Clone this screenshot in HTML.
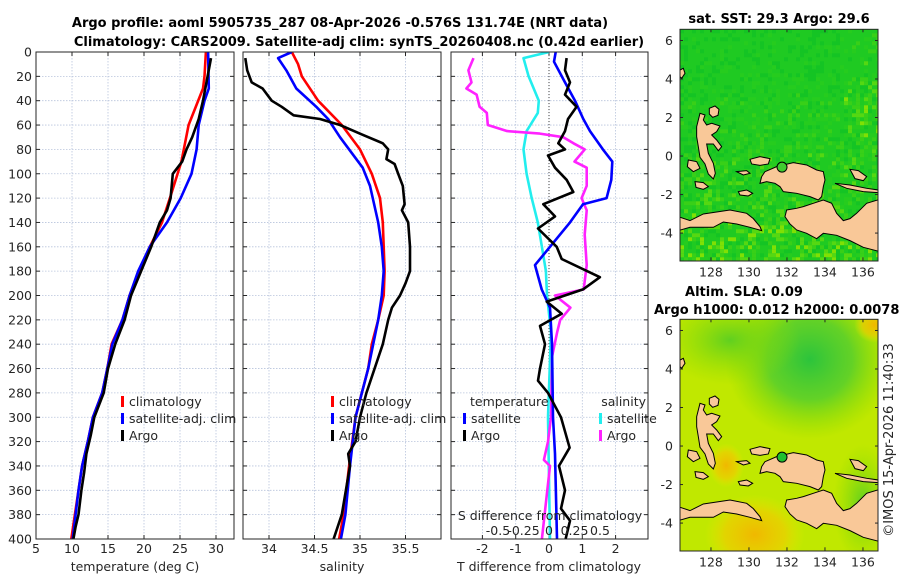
<!DOCTYPE html>
<html><head><meta charset="utf-8"><style>
body{margin:0;background:#fff;}
svg{display:block;font-family:"DejaVu Sans","Liberation Sans",sans-serif;}
.tk{font-size:12.5px;fill:#262626;}
.tt{font-size:13px;font-weight:bold;fill:#000;}
</style></head><body>
<svg id="chart" width="900" height="580" viewBox="0 0 900 580">
<defs>
<clipPath id="c1"><rect x="36" y="52" width="198" height="487"/></clipPath>
<clipPath id="c2"><rect x="243" y="52" width="198" height="487"/></clipPath>
<clipPath id="c3"><rect x="451" y="52" width="197" height="487"/></clipPath>
<clipPath id="m1"><rect x="680" y="29.3" width="198" height="231.7"/></clipPath>
<clipPath id="m2"><rect x="680" y="319.3" width="198" height="231.7"/></clipPath>
<radialGradient id="gGreen"><stop offset="0" stop-color="#2cc43c"/><stop offset="0.5" stop-color="#4ccc30" stop-opacity="0.8"/><stop offset="1" stop-color="#7ed800" stop-opacity="0"/></radialGradient>
<radialGradient id="gGreen2"><stop offset="0" stop-color="#60d020"/><stop offset="1" stop-color="#90dc00" stop-opacity="0"/></radialGradient>
<radialGradient id="gOr"><stop offset="0" stop-color="#f0b800"/><stop offset="0.6" stop-color="#f0cc00" stop-opacity="0.7"/><stop offset="1" stop-color="#e8e800" stop-opacity="0"/></radialGradient>
<g id="land">
<path d="M345,515 L380,500 L430,488 L470,495 L500,510 L520,515 L525,540 L520,560 L515,590 L505,600 L480,590 L440,580 L400,575 L390,560 L375,550 L350,545 L330,550 L335,530 Z"/>
<path d="M410,630 L440,625 L460,620 L490,610 L520,600 L545,610 L560,640 L580,662 L600,656 L620,640 L650,610 L690,598 L690,755 L640,742 L600,722 L560,706 L520,700 L500,716 L470,700 L440,690 L420,672 L405,650 Z"/>
<path d="M85,650 L120,662 L160,642 L200,636 L240,630 L290,640 L310,656 L330,680 L335,692 L300,682 L260,672 L220,666 L190,682 L160,682 L120,682 L85,692 Z"/>
<path d="M150,340 L165,345 L160,360 L170,375 L185,370 L210,378 L200,395 L185,405 L200,420 L215,440 L205,452 L190,432 L170,432 L175,460 L190,490 L196,520 L190,537 L175,522 L165,492 L150,472 L145,440 L140,410 L140,380 Z"/>
<path d="M178,325 L195,318 L207,328 L204,346 L188,352 L178,342 Z"/>
<path d="M300,478 L330,470 L360,476 L355,492 L330,496 L305,492 Z"/>
<path d="M600,508 L625,512 L650,530 L640,542 L615,536 Z"/>
<path d="M135,545 L160,548 L175,560 L160,568 L138,562 Z"/>
<path d="M265,575 L290,570 L308,580 L295,588 L270,585 Z"/>
<path d="M115,480 L140,485 L150,505 L130,515 L112,500 Z"/>
<path d="M555,550 L600,555 L650,565 L685,570 L685,578 L640,575 L590,565 Z"/>
<path d="M260,515 L290,512 L300,520 L280,525 Z"/>
<path d="M90,210 L100,205 L105,220 L95,235 L90,230 Z"/>
</g>
</defs>
<rect width="900" height="580" fill="#fff"/>
<text class="tt" x="340" y="27" text-anchor="middle">Argo profile: aoml 5905735_287 08-Apr-2026 -0.576S 131.74E (NRT data)</text>
<text class="tt" x="359" y="46" text-anchor="middle">Climatology: CARS2009. Satellite-adj clim: synTS_20260408.nc (0.42d earlier)</text>
<g id="g-panels"></g>
<g id="g-maps"></g>
<text class="tk" transform="translate(893,440) rotate(-90)" text-anchor="middle" style="font-size:13px">©IMOS 15-Apr-2026 11:40:33</text>
</svg>
<script>
// ---------- data ----------
const depthTicks=[0,20,40,60,80,100,120,140,160,180,200,220,240,260,280,300,320,340,360,380,400];
const tempTicks=[5,10,15,20,25,30];
const salTicks=[34,34.5,35,35.5];
const dTTicks=[-2,-1,0,1,2];
const dSTicks=[-0.5,-0.25,0,0.25,0.5];
const lonTicks=[128,130,132,134,136];
const latTicks=[6,4,2,0,-2,-4];

const tClimDepth=[0,20,30,60,90,120,140,160,180,200,220,240,260,280,300,320,340,360,380,400];
const tClimVal=[28.6,28.4,28.2,26.2,25.2,23.6,22.5,20.8,19.3,18.0,17.0,15.5,14.9,14.2,12.9,12.2,11.4,10.9,10.4,9.9];
const tSatDepth=[0,30,40,60,80,100,120,140,160,180,200,220,240,260,280,300,320,340,360,380,400];
const tSatVal=[28.9,29.0,28.4,27.6,27.3,26.6,25.1,23.2,20.8,19.2,18.0,17.0,15.6,14.9,14.2,12.9,12.2,11.4,10.9,10.5,10.1];
const tArgoDepth=[5,40,55,70,80,90,100,120,130,140,160,180,200,220,240,260,280,300,315,330,345,360,380,390,400];
const tArgoVal=[29.3,28.2,27.6,26.7,25.9,25.3,24.0,23.7,23.2,22.2,21.0,19.6,18.2,17.3,16.0,15.0,14.4,13.1,12.6,12.0,11.7,11.3,10.9,10.5,10.2];

const sClimDepth=[0,10,20,40,60,80,100,120,140,180,200,220,240,260,280,300,340,380,400];
const sClimVal=[34.25,34.32,34.36,34.54,34.80,35.0,35.13,35.22,35.25,35.27,35.26,35.2,35.13,35.09,35.02,34.95,34.88,34.82,34.77];
const sSatDepth=[0,5,15,30,45,55,70,95,110,140,160,180,200,220,260,300,340,380,400];
const sSatVal=[34.25,34.10,34.19,34.30,34.52,34.65,34.78,35.03,35.11,35.2,35.24,35.26,35.24,35.2,35.09,34.95,34.89,34.84,34.79];
const sArgoDepth=[5,15,25,30,40,45,52,55,60,68,75,80,88,92,100,110,125,130,140,160,180,190,200,210,220,240,260,280,300,320,330,340,380,400];
const sArgoVal=[33.74,33.76,33.81,33.93,34.03,34.14,34.27,34.56,34.78,35.03,35.25,35.31,35.29,35.38,35.42,35.47,35.49,35.46,35.53,35.55,35.55,35.5,35.44,35.35,35.31,35.25,35.16,35.07,35.0,34.95,34.87,34.89,34.8,34.71];

const dTSatDepth=[0,8,25,40,55,65,80,90,105,120,125,140,155,175,195,210,240,300,330,400];
const dTSatVal=[0.2,0.15,0.48,0.78,1.03,1.23,1.62,1.9,1.87,1.73,1.02,0.63,0.18,-0.42,-0.22,0.03,0.09,0.12,0.18,0.24];
const dTArgoDepth=[5,15,25,35,45,55,65,75,80,85,95,105,115,125,135,145,160,170,185,195,205,215,225,240,260,270,280,300,325,340,360,375,385,400];
const dTArgoVal=[0.53,0.48,0.63,0.48,0.83,0.57,0.48,0.28,0.48,-0.03,0.18,0.53,0.73,-0.17,0.18,-0.33,0.23,0.38,1.53,1.02,-0.07,0.38,-0.27,-0.12,-0.27,-0.33,-0.03,0.36,0.62,0.3,0.48,0.36,0.63,0.5];
const dSSatDepth=[0,5,20,40,50,65,80,100,120,140,160,180,200,230,300,400];
const dSSatVal=[0.0,-0.25,-0.2,-0.10,-0.11,-0.22,-0.25,-0.22,-0.17,-0.11,-0.07,-0.03,-0.02,0.02,-0.01,0.01];
const dSArgoDepth=[5,15,25,30,35,45,50,60,65,67,70,75,80,90,95,110,120,130,150,175,195,200,210,220,230,250,300,320,335,340,400];
const dSArgoVal=[-0.74,-0.79,-0.76,-0.81,-0.71,-0.68,-0.61,-0.60,-0.41,-0.09,0.14,0.24,0.35,0.25,0.37,0.37,0.32,0.37,0.35,0.37,0.34,0.06,0.21,0.11,0.08,0.03,0.02,-0.01,-0.05,0.01,-0.07];

// ---------- scales ----------
const yD=d=>52+d*487/400;
const xT=v=>36+(v-5)*7.2;
const xS=v=>269+(v-34)*91;
const xDT=v=>549+v*33.3;
const xDS=v=>549+v*102;
const NS='http://www.w3.org/2000/svg';
function mk(tag,attrs,parent){const e=document.createElementNS(NS,tag);for(const k in attrs)e.setAttribute(k,attrs[k]);parent.appendChild(e);return e;}
const G=document.getElementById('g-panels');

function panel(x0,x1,ticks,xf,tickLabels,name,yLabels){
  const g=mk('g',{},G);
  
  
  depthTicks.forEach(d=>{
    const y=yD(d);
    const l=mk('line',{x1:x0,x2:x1,y1:y,y2:y,stroke:'#b8c4dc','stroke-width':0.8,'stroke-dasharray':'1.5,1.5'},g);
    
    mk('line',{x1:x0,x2:x0+4,y1:y,y2:y,stroke:'#262626'},g);
    mk('line',{x1:x1-4,x2:x1,y1:y,y2:y,stroke:'#262626'},g);
    if(yLabels){const t=mk('text',{x:x0-4,y:y+4.5,'text-anchor':'end','class':'tk'},g);t.textContent=d;
      }
  });
  ticks.forEach((v,i)=>{
    const x=xf(v);
    const l=mk('line',{x1:x,x2:x,y1:52,y2:539,stroke:'#b8c4dc','stroke-width':0.8,'stroke-dasharray':'1.5,1.5'},g);
    
    mk('line',{x1:x,x2:x,y1:535,y2:539,stroke:'#262626'},g);
    mk('line',{x1:x,x2:x,y1:52,y2:56,stroke:'#262626'},g);
    const t=mk('text',{x:x,y:553,'text-anchor':'middle','class':'tk'},g);t.textContent=tickLabels[i];
    
  });
  return g;
}
function line(g,clip,depth,vals,xf,color,name){
  const pts=depth.map((d,i)=>xf(vals[i]).toFixed(1)+','+yD(d).toFixed(1)).join(' ');
  const p=mk('polyline',{points:pts,fill:'none',stroke:color,'stroke-width':2.6,'stroke-linejoin':'round','clip-path':'url(#'+clip+')'},g);
  
  
}
function frame(g,x0,x1){mk('rect',{x:x0,y:52,width:x1-x0,height:487,fill:'none',stroke:'#262626','stroke-width':1},g);}
function legendEntry(g,x,y,color,label,name){
  mk('rect',{x:x,y:y-10,width:3,height:11,fill:color},g);
  const t=mk('text',{x:x+8,y:y,'class':'tk'},g);t.textContent=label;
  
}
function txt(g,x,y,s,anchor,name){const t=mk('text',{x:x,y:y,'class':'tk','text-anchor':anchor},g);t.textContent=s;
  }

// Panel 1
const g1=panel(36,234,tempTicks,xT,tempTicks,'temperature-panel',true);
line(g1,'c1',tClimDepth,tClimVal,xT,'#ff0000','temp-climatology-line');
line(g1,'c1',tSatDepth,tSatVal,xT,'#0000ff','temp-satellite-line');
line(g1,'c1',tArgoDepth,tArgoVal,xT,'#000000','temp-argo-line');
frame(g1,36,234);
legendEntry(g1,121,406,'#ff0000','climatology','legend-climatology');
legendEntry(g1,121,423,'#0000ff','satellite-adj. clim','legend-satellite');
legendEntry(g1,121,440,'#000000','Argo','legend-argo');
txt(g1,135,571,'temperature (deg C)','middle','x-axis-title-temperature');

// Panel 2
const g2=panel(243,441,salTicks,xS,salTicks,'salinity-panel',false);
line(g2,'c2',sClimDepth,sClimVal,xS,'#ff0000','sal-climatology-line');
line(g2,'c2',sSatDepth,sSatVal,xS,'#0000ff','sal-satellite-line');
line(g2,'c2',sArgoDepth,sArgoVal,xS,'#000000','sal-argo-line');
frame(g2,243,441);
legendEntry(g2,331,406,'#ff0000','climatology','legend-climatology');
legendEntry(g2,331,423,'#0000ff','satellite-adj. clim','legend-satellite');
legendEntry(g2,331,440,'#000000','Argo','legend-argo');
txt(g2,342,571,'salinity','middle','x-axis-title-salinity');

// Panel 3
const g3=panel(451,648,dTTicks,xDT,dTTicks,'difference-panel',false);
mk('line',{x1:549,x2:549,y1:52,y2:539,stroke:'#444','stroke-width':1,'stroke-dasharray':'1,2'},g3);
line(g3,'c3',dSSatDepth,dSSatVal,xDS,'#22eeee','dS-satellite-line');
line(g3,'c3',dSArgoDepth,dSArgoVal,xDS,'#ff22ff','dS-argo-line');
line(g3,'c3',dTSatDepth,dTSatVal,xDT,'#0000ff','dT-satellite-line');
line(g3,'c3',dTArgoDepth,dTArgoVal,xDT,'#000000','dT-argo-line');
frame(g3,451,648);
txt(g3,470,406,'temperature','start','legend-temperature-heading');
legendEntry(g3,463,423,'#0000ff','satellite','legend-dT-satellite');
legendEntry(g3,463,440,'#000000','Argo','legend-dT-argo');
txt(g3,646,406,'salinity','end','legend-salinity-heading');
legendEntry(g3,599,423,'#22eeee','satellite','legend-dS-satellite');
legendEntry(g3,599,440,'#ff22ff','Argo','legend-dS-argo');
txt(g3,550,520,'S difference from climatology','middle','s-diff-axis-title');
dSTicks.forEach(v=>txt(g3,xDS(v),535,String(v),'middle','s-diff-tick-label'));
txt(g3,549,571,'T difference from climatology','middle','x-axis-title-t-diff');

// ---------- maps ----------
const GM=document.getElementById('g-maps');
const lonX=v=>680+(v-126.37)*19;
function hash(i,j){let h=(i*374761393+j*668265263)>>>0;h=((h^(h>>>13))*1274126177)>>>0;return (h&0xffff)/65535;}
function map(top,name,clip,kind){
  const g=mk('g',{},GM);
  
  
  const latY=v=>top+(6.58-v)*19.26;
  const body=mk('g',{'clip-path':'url(#'+clip+')'},g);
  if(kind==='sst'){
    mk('rect',{x:680,y:top,width:198,height:232,fill:'#1fca22'},body);
    const cols=['#14c424','#26cc1e','#38d018','#55d812','#80e004','#a8e600'];
    for(let i=0;i<50;i++)for(let j=0;j<58;j++){
      const r=hash(i,j);const yy=j/58;const xx=i/50;
      let p=0.25+yy*0.5+(xx>0.8&&yy>0.2&&yy<0.45?0.3:0);
      if(r>p) continue;
      let k=Math.floor(hash(j+7,i+3)*(1+yy*4+(xx>0.8&&yy<0.45?2:0)));
      k=Math.min(k,5);
      mk('rect',{x:680+i*4,y:top+j*4,width:4,height:4,fill:cols[k]},body);
    }
  } else {
    mk('rect',{x:680,y:top,width:198,height:232,fill:'#c0e800'},body);
    mk('ellipse',{cx:lonX(133.2),cy:latY(4.5),rx:85,ry:80,fill:'url(#gGreen)'},body);
    mk('ellipse',{cx:lonX(129),cy:latY(5.5),rx:70,ry:45,fill:'url(#gGreen2)'},body);
    mk('ellipse',{cx:lonX(136),cy:latY(-3),rx:30,ry:60,fill:'url(#gGreen2)'},body);
    mk('ellipse',{cx:lonX(130.3),cy:latY(-4.6),rx:50,ry:40,fill:'url(#gOr)'},body);
    mk('ellipse',{cx:lonX(128.8),cy:latY(-1),rx:18,ry:22,fill:'url(#gOr)'},body);
    mk('ellipse',{cx:lonX(136.6),cy:latY(6.3),rx:20,ry:18,fill:'url(#gOr)'},body);
  }
  const u=mk('use',{href:'#land',fill:'#f9c898',stroke:'#000','stroke-width':3,transform:'translate(650,'+(top-29.3)+') scale(0.3333)'},body);
  
  
  const dot=mk('circle',{cx:lonX(131.74),cy:latY(-0.576)+0,r:5,fill:kind==='sst'?'#40cc30':'#20c030',stroke:'#000','stroke-width':1},body);
  
  
  mk('rect',{x:680,y:top,width:198,height:231.7,fill:'none',stroke:'#262626'},g);
  lonTicks.forEach(v=>{const x=lonX(v);
    mk('line',{x1:x,x2:x,y1:top+231.7,y2:top+228,stroke:'#262626'},g);
    mk('line',{x1:x,x2:x,y1:top,y2:top+3,stroke:'#262626'},g);
    txt(g,x,top+247,String(v),'middle','lon-tick-label');});
  latTicks.forEach(v=>{const y=latY(v);
    mk('line',{x1:680,x2:683,y1:y,y2:y,stroke:'#262626'},g);
    mk('line',{x1:875,x2:878,y1:y,y2:y,stroke:'#262626'},g);
    txt(g,673,y+4.5,String(v),'end','lat-tick-label');});
  return g;
}
const gm1=map(29.3,'sst-map','m1','sst');
const t1=mk('text',{x:779,y:23,'class':'tt','text-anchor':'middle'},gm1);t1.textContent='sat. SST: 29.3 Argo: 29.6';

const gm2=map(319.3,'sla-map','m2','sla');
const t2=mk('text',{x:744,y:296,'class':'tt','text-anchor':'middle'},gm2);t2.textContent='Altim. SLA: 0.09';

const t3=mk('text',{x:654,y:314,'class':'tt'},gm2);t3.textContent='Argo h1000: 0.012 h2000: 0.0078';

</script>
</body></html>
